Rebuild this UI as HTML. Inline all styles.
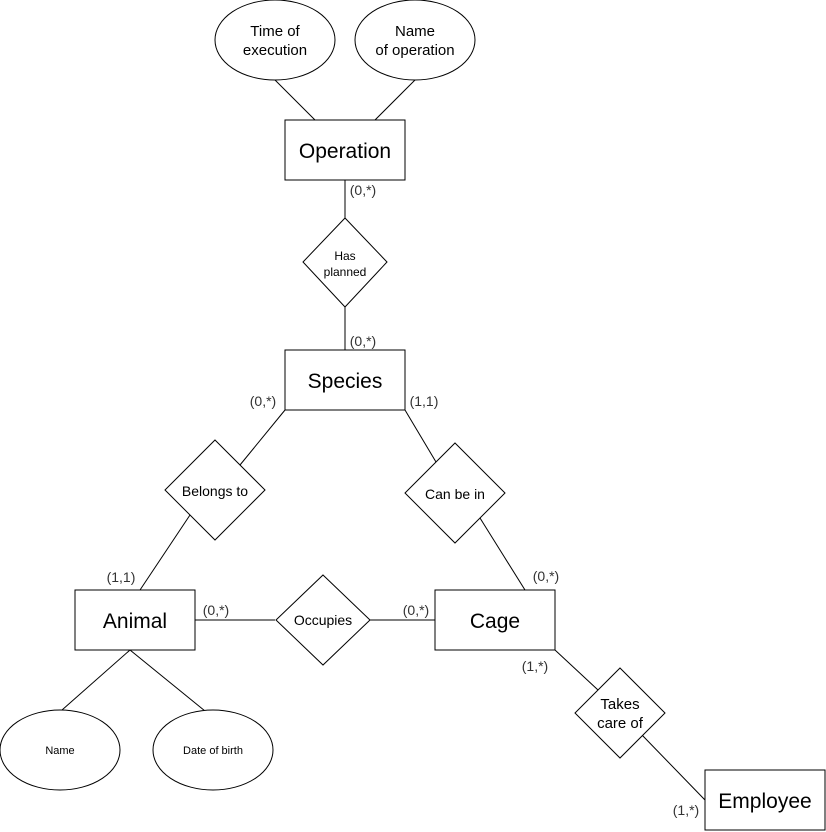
<!DOCTYPE html>
<html><head><meta charset="utf-8"><style>
html,body{margin:0;padding:0;background:#fff;}
svg{display:block;font-family:"Liberation Sans",Arial,sans-serif;}
</style></head><body>
<svg width="826" height="832" viewBox="0 0 826 832" xmlns="http://www.w3.org/2000/svg">
<g stroke="#000" stroke-width="1" fill="none">
<line x1="275" y1="80" x2="315" y2="120"/>
<line x1="415" y1="80" x2="375" y2="120"/>
<line x1="345" y1="180" x2="345" y2="218"/>
<line x1="345" y1="307" x2="345" y2="350"/>
<line x1="285" y1="410" x2="240" y2="465"/>
<line x1="190" y1="515" x2="140" y2="590"/>
<line x1="405" y1="410" x2="436" y2="462"/>
<line x1="480" y1="518" x2="525" y2="590"/>
<line x1="195" y1="620" x2="275" y2="620"/>
<line x1="370" y1="620" x2="435" y2="620"/>
<line x1="130" y1="650" x2="62" y2="710"/>
<line x1="130" y1="650" x2="205" y2="711"/>
<line x1="555" y1="650" x2="598" y2="690"/>
<line x1="642" y1="735" x2="705" y2="800"/>
</g>
<g stroke="#000" stroke-width="1" fill="#fff">
<ellipse cx="275" cy="40" rx="60" ry="40"/>
<ellipse cx="415" cy="40" rx="60" ry="40"/>
<ellipse cx="60" cy="750" rx="60" ry="40"/>
<ellipse cx="213" cy="750" rx="60" ry="40"/>
<rect x="285" y="120" width="120" height="60"/>
<rect x="285" y="350" width="120" height="60"/>
<rect x="75" y="590" width="120" height="60"/>
<rect x="435" y="590" width="120" height="60"/>
<rect x="705" y="770" width="120" height="60"/>
<polygon points="345,218 387,262 345,307 303,262"/>
<polygon points="215,440 265,490 215,540 165,490"/>
<polygon points="455,443 505,493 455,543 405,493"/>
<polygon points="323,575 370,620 323,665 276,620"/>
<polygon points="620,668 665,713 620,758 575,713"/>
</g>
<g fill="#000" text-anchor="middle">
<text x="275" y="36" font-size="15">Time of</text>
<text x="275" y="55" font-size="15">execution</text>
<text x="415" y="36" font-size="15">Name</text>
<text x="415" y="55" font-size="15">of operation</text>
<text x="345" y="158" font-size="21">Operation</text>
<text x="345" y="388" font-size="21">Species</text>
<text x="135" y="628" font-size="21">Animal</text>
<text x="495" y="628" font-size="21">Cage</text>
<text x="765" y="808" font-size="21">Employee</text>
<text x="345" y="260" font-size="12">Has</text>
<text x="345" y="276" font-size="12">planned</text>
<text x="215" y="496" font-size="14">Belongs to</text>
<text x="455" y="499" font-size="14">Can be in</text>
<text x="323" y="625" font-size="14">Occupies</text>
<text x="620" y="709" font-size="15">Takes</text>
<text x="620" y="728" font-size="15">care of</text>
<text x="60" y="754" font-size="11">Name</text>
<text x="213" y="754" font-size="11">Date of birth</text>
</g>
<g fill="#333" font-size="14" text-anchor="middle">
<text x="363" y="195">(0,*)</text>
<text x="363" y="346">(0,*)</text>
<text x="263" y="406">(0,*)</text>
<text x="424" y="406">(1,1)</text>
<text x="121" y="582">(1,1)</text>
<text x="546" y="581">(0,*)</text>
<text x="216" y="615">(0,*)</text>
<text x="416" y="615">(0,*)</text>
<text x="535" y="671">(1,*)</text>
<text x="686" y="815">(1,*)</text>
</g>
</svg>
</body></html>
